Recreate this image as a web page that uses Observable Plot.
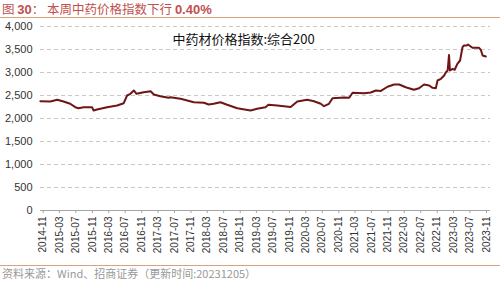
<!DOCTYPE html>
<html>
<head>
<meta charset="utf-8">
<script src="https://cdn.jsdelivr.net/npm/d3@7"></script>
<script src="https://cdn.jsdelivr.net/npm/@observablehq/plot@0.6"></script>
<style>
  html, body { margin: 0; padding: 0; background: #fff; }
  body { width: 500px; height: 281px; overflow: hidden; font-family: "Liberation Sans", Arial, "Noto Sans CJK SC", sans-serif; }
  #title { height: 17px; line-height: 17px; border-bottom: 1px solid #d9a27e; color: #c0504d; font-size: 12.5px; padding-left: 2px; white-space: nowrap; overflow: visible; font-family: "Noto Sans CJK SC", sans-serif; }
  #title b { font-family: "Liberation Sans", Arial, sans-serif; font-weight: bold; font-size: 13px; }
  #chart svg { display: block; }
  #caption { height: 15px; line-height: 15px; border-top: 1px solid #d9a27e; color: #999; font-size: 11px; padding-left: 2px; white-space: nowrap; font-family: "Noto Sans CJK SC", sans-serif; }
</style>
</head>
<body>
<div id="title">图 <b>30</b>：&nbsp;本周中药价格指数下行 <b>0.40%</b></div>
<div id="chart"></div>
<div id="caption">资料来源：Wind、招商证券（更新时间:20231205）</div>
<script>
const seriesName = "中药材价格指数:综合200";
const dates = [
  "2014-10-11","2014-12-24","2015-02-13","2015-04-01","2015-05-20","2015-06-27","2015-07-21","2015-08-28",
  "2015-10-29","2015-11-10","2015-12-05","2016-02-18","2016-05-02","2016-06-20","2016-07-15","2016-08-09",
  "2016-09-03","2016-09-23","2016-11-16","2017-01-05","2017-01-30","2017-03-18","2017-05-19","2017-06-01",
  "2017-08-15","2017-10-04","2017-11-22","2018-02-05","2018-03-12","2018-04-18","2018-06-07","2018-07-27",
  "2018-10-10","2019-01-17","2019-03-06","2019-05-07","2019-05-29","2019-08-02","2019-11-10","2019-12-29",
  "2020-03-12","2020-05-01","2020-06-20","2020-07-14","2020-08-20","2020-09-15","2020-12-10","2021-01-17",
  "2021-02-11","2021-05-07","2021-06-26","2021-08-02","2021-09-09","2021-10-28","2021-12-16","2022-01-23",
  "2022-03-12","2022-05-12","2022-06-19","2022-07-26","2022-09-02","2022-09-27","2022-10-21","2022-11-03",
  "2022-11-28","2022-12-22","2023-01-04","2023-01-17","2023-01-27","2023-02-03","2023-02-23","2023-03-10",
  "2023-03-30","2023-04-19","2023-05-07","2023-05-18","2023-06-07","2023-06-17","2023-07-07","2023-07-20",
  "2023-09-07","2023-09-20","2023-10-03","2023-10-27"
];
const values = [
  2376,2370,2406,2370,2320,2246,2224,2246,
  2246,2174,2196,2246,2283,2333,2500,2537,
  2609,2537,2572,2594,2522,2485,2450,2463,
  2428,2391,2354,2341,2304,2320,2354,2298,
  2224,2174,2210,2246,2300,2283,2250,2370,
  2406,2376,2320,2267,2320,2442,2455,2450,
  2559,2550,2565,2609,2600,2690,2739,2739,
  2680,2624,2659,2739,2717,2667,2659,2826,
  2863,2935,3007,3043,3380,3043,3080,3059,
  3189,3261,3550,3587,3587,3609,3565,3537,
  3537,3493,3370,3348
];
const yTicks = [0,500,1000,1500,2000,2500,3000,3500,4000];
const xTickLabels = [
  "2014-11","2015-03","2015-07","2015-11","2016-03","2016-07","2016-11","2017-03","2017-07","2017-11",
  "2018-03","2018-07","2018-11","2019-03","2019-07","2019-11","2020-03","2020-07","2020-11","2021-03",
  "2021-07","2021-11","2022-03","2022-07","2022-11","2023-03","2023-07","2023-11"
];

const parseDay = d3.utcParse("%Y-%m-%d");
const parseMonth = d3.utcParse("%Y-%m");
const data = dates.map((d, i) => ({date: parseDay(d), value: values[i]}));
const xTicks = xTickLabels.map(parseMonth);

const chart = Plot.plot({
  width: 500,
  height: 247,
  marginLeft: 40,
  marginRight: 10,
  marginTop: 8,
  marginBottom: 55,
  style: {fontFamily: "'Liberation Sans', Arial, sans-serif", fontSize: "11px", color: "#333", background: "#fff"},
  x: {type: "utc", domain: [xTicks[0], xTicks[xTicks.length - 1]], range: [42.7, 486]},
  y: {domain: [0, 4000], range: [192, 8]},
  marks: [
    Plot.gridY(yTicks.filter(d => d > 0), {stroke: "#c8c8c8", strokeOpacity: 1, strokeDasharray: "4,3"}),
    Plot.ruleY([0], {stroke: "#a6a6a6"}),
    Plot.axisY({ticks: yTicks, tickSize: 0, tickPadding: 8, tickFormat: d3.format(","), label: null, fontSize: 11}),
    Plot.axisX({ticks: xTicks, tickFormat: d3.utcFormat("%Y-%m"), tickRotate: -90, tickSize: 3, tickPadding: 3, stroke: "#a6a6a6", label: null, fontSize: 10}),
    Plot.line(data, {x: "date", y: "value", stroke: "#6e1616", strokeWidth: 2}),
    Plot.text([seriesName], {frameAnchor: "top", dx: -22, dy: 8, fontSize: 13, fill: "#111", fontFamily: "'Noto Sans CJK SC', sans-serif"})
  ]
});
document.getElementById("chart").appendChild(chart);
</script>
</body>
</html>
